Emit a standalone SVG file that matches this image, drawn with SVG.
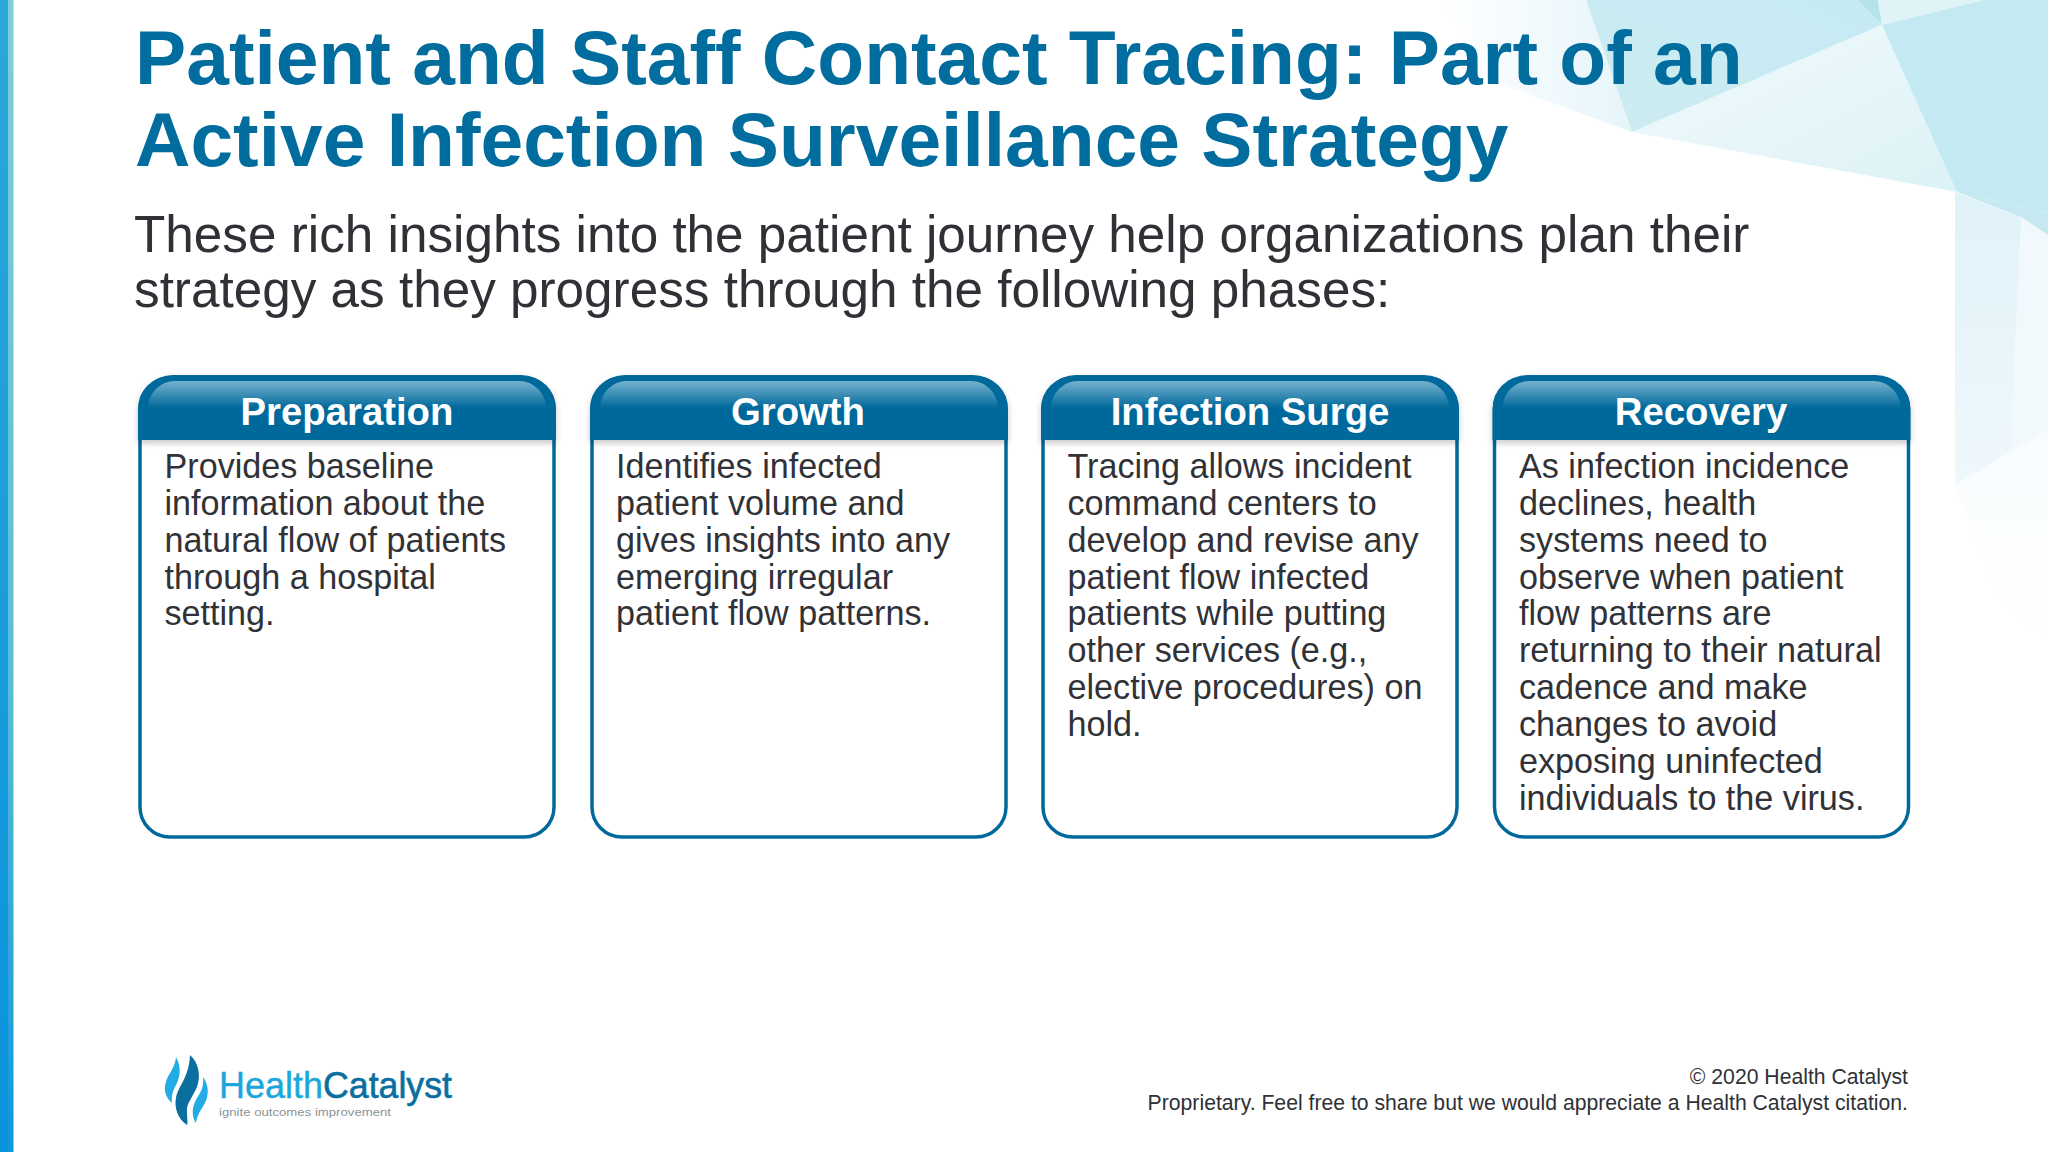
<svg xmlns="http://www.w3.org/2000/svg" width="2048" height="1152" viewBox="0 0 2048 1152">
<style>
text{font-family:"Liberation Sans",Arial,sans-serif}
.t{font-size:76.75px;font-weight:700;fill:#006d9e}
.s{font-size:51.25px;fill:#2f3136}
.h{font-size:38.3px;font-weight:700;fill:#fff;text-anchor:middle}
.b{font-size:34.15px;fill:#303238}
.f{font-size:21.2px;fill:#2f3136;text-anchor:end}
.box{fill:#fff;stroke:#00699b;stroke-width:3.5}
.head{fill:#00699b}
.sh{fill:url(#shine)}
</style>
<defs>
<linearGradient id="bar" x1="0" y1="0" x2="0" y2="1"><stop offset="0" stop-color="#2ba8d8"/><stop offset="1" stop-color="#0a93dd"/></linearGradient>
<linearGradient id="bar2" x1="0" y1="0" x2="0" y2="1"><stop offset="0" stop-color="#7fd0d8"/><stop offset=".6" stop-color="#5cbcd8"/><stop offset="1" stop-color="#0f96dc"/></linearGradient>
<linearGradient id="shine" x1="0" y1="0" x2="0" y2="1"><stop offset="0" stop-color="#76b2ce"/><stop offset="1" stop-color="#00699b"/></linearGradient>
<linearGradient id="fade" x1="0" y1="0" x2="1" y2="0"><stop offset="0" stop-color="#fff"/><stop offset="1" stop-color="#e6f5fb"/></linearGradient>
<linearGradient id="fa" x1="0" y1="0" x2="1" y2="1"><stop offset="0" stop-color="#f2fafd"/><stop offset="1" stop-color="#dcf2f6"/></linearGradient>
<linearGradient id="fb" x1="0" y1="1" x2="1" y2="0"><stop offset="0" stop-color="#cdecf0"/><stop offset="1" stop-color="#c6eaf5"/></linearGradient>
<linearGradient id="fc" x1="0" y1="0" x2="0" y2="1"><stop offset="0" stop-color="#e0f2f9"/><stop offset="1" stop-color="#eff8fc"/></linearGradient>
<linearGradient id="fd" x1="0" y1="0" x2="0" y2="1"><stop offset="0" stop-color="#f8fcfe"/><stop offset="1" stop-color="#fff"/></linearGradient>
<filter id="soft" x="-5%" y="-20%" width="110%" height="150%"><feDropShadow dx="0" dy="3" stdDeviation="3" flood-color="#000" flood-opacity=".22"/></filter>
</defs>
<rect width="2048" height="1152" fill="#fff"/>
<g id="background">
<polygon points="1440,0 1586,0 1632,132 1498,83" fill="url(#fade)"/>
<polygon points="1586,0 1857,0 1882,25 1632,132" fill="url(#fb)"/>
<polygon points="1857,0 1878,0 1882,25" fill="#b5e3ea"/>
<polygon points="1878,0 1984,0 1882,25" fill="#e0f4f8"/>
<polygon points="1632,132 1882,25 1957,192" fill="url(#fa)"/>
<polygon points="1882,25 1984,0 2048,0 2048,213 1957,192" fill="#c3e9f2"/>
<polygon points="1955,192 2021,217 2048,235 2048,430 1955,485" fill="url(#fc)"/>
<polygon points="2021,217 2048,235 2048,430 2010,452" fill="#f1f9fc"/>
<polygon points="1955,485 2048,430 2048,640 2000,600" fill="url(#fd)"/>
<polygon points="1957,192 2048,213 2048,235 2021,217" fill="#c6e9f1"/>
</g>
<g id="sidebar">
<rect x="0" y="0" width="8" height="1152" fill="url(#bar)"/>
<rect x="8" y="0" width="5.500" height="1152" fill="url(#bar2)"/>
</g>
<g id="heading">
<text class="t" x="135" y="84">Patient and Staff Contact Tracing: Part of an</text>
<text class="t" x="135" y="166">Active Infection Surveillance Strategy</text>
<text class="s" x="134" y="252">These rich insights into the patient journey help organizations plan their</text>
<text class="s" x="134" y="307">strategy as they progress through the following phases:</text>
</g>
<g id="preparation">
<rect class="box" x="140" y="378" width="414" height="459" rx="30"/>
<path class="head" filter="url(#soft)" d="M138 440V410a35 35 0 0 1 35-35H521a35 35 0 0 1 35 35V440Z"/>
<path class="sh" d="M148 408a27 27 0 0 1 27-27H519a27 27 0 0 1 27 27Z"/>
<text class="h" x="347" y="425">Preparation</text>
<text class="b" x="164.500" y="478">Provides baseline<tspan x="164.500" dy="36.850">information about the</tspan><tspan x="164.500" dy="36.850">natural flow of patients</tspan><tspan x="164.500" dy="36.850">through a hospital</tspan><tspan x="164.500" dy="36.850">setting.</tspan></text>
</g>
<g id="growth">
<rect class="box" x="592" y="378" width="414" height="459" rx="30"/>
<path class="head" filter="url(#soft)" d="M590 440V410a35 35 0 0 1 35-35H973a35 35 0 0 1 35 35V440Z"/>
<path class="sh" d="M600 408a27 27 0 0 1 27-27H971a27 27 0 0 1 27 27Z"/>
<text class="h" x="798" y="425">Growth</text>
<text class="b" x="616" y="478">Identifies infected<tspan x="616" dy="36.850">patient volume and</tspan><tspan x="616" dy="36.850">gives insights into any</tspan><tspan x="616" dy="36.850">emerging irregular</tspan><tspan x="616" dy="36.850">patient flow patterns.</tspan></text>
</g>
<g id="infection-surge">
<rect class="box" x="1043" y="378" width="414" height="459" rx="30"/>
<path class="head" filter="url(#soft)" d="M1041 440V410a35 35 0 0 1 35-35H1424a35 35 0 0 1 35 35V440Z"/>
<path class="sh" d="M1051 408a27 27 0 0 1 27-27H1422a27 27 0 0 1 27 27Z"/>
<text class="h" x="1250" y="425">Infection Surge</text>
<text class="b" x="1067.500" y="478">Tracing allows incident<tspan x="1067.500" dy="36.850">command centers to</tspan><tspan x="1067.500" dy="36.850">develop and revise any</tspan><tspan x="1067.500" dy="36.850">patient flow infected</tspan><tspan x="1067.500" dy="36.850">patients while putting</tspan><tspan x="1067.500" dy="36.850">other services (e.g.,</tspan><tspan x="1067.500" dy="36.850">elective procedures) on</tspan><tspan x="1067.500" dy="36.850">hold.</tspan></text>
</g>
<g id="recovery">
<rect class="box" x="1494.500" y="378" width="414" height="459" rx="30"/>
<path class="head" filter="url(#soft)" d="M1492.500 440V410a35 35 0 0 1 35-35H1875.500a35 35 0 0 1 35 35V440Z"/>
<path class="sh" d="M1502.500 408a27 27 0 0 1 27-27H1873.500a27 27 0 0 1 27 27Z"/>
<text class="h" x="1701" y="425">Recovery</text>
<text class="b" x="1519" y="478">As infection incidence<tspan x="1519" dy="36.850">declines, health</tspan><tspan x="1519" dy="36.850">systems need to</tspan><tspan x="1519" dy="36.850">observe when patient</tspan><tspan x="1519" dy="36.850">flow patterns are</tspan><tspan x="1519" dy="36.850">returning to their natural</tspan><tspan x="1519" dy="36.850">cadence and make</tspan><tspan x="1519" dy="36.850">changes to avoid</tspan><tspan x="1519" dy="36.850">exposing uninfected</tspan><tspan x="1519" dy="36.850">individuals to the virus.</tspan></text>
</g>
<g id="logo">
<path d="M176 1057C182 1068 180 1078 175 1087C172 1093 171 1098 172 1103C166 1098 163 1090 166 1082C168 1074 175 1068 176 1057Z" fill="#22ace6"/>
<path d="M190 1055C199 1063 201 1076 197 1087C192 1098 186 1104 187 1112C187 1118 188 1122 187 1125C178 1119 174 1108 176 1098C178 1086 189 1078 190 1055Z" fill="#0a6f9f"/>
<path d="M203 1077C209 1085 209 1095 205 1103C201 1110 197 1115 196 1123C191 1116 192 1106 197 1098C201 1092 204 1087 203 1077Z" fill="#22ace6"/>
<text x="219" y="1098" font-size="36" fill="#1ba7dc" stroke="#1ba7dc" stroke-width=".4" textLength="104" lengthAdjust="spacingAndGlyphs">Health</text>
<text x="323" y="1098" font-size="36" fill="#0a6f9f" stroke="#0a6f9f" stroke-width=".6" textLength="129" lengthAdjust="spacingAndGlyphs">Catalyst</text>
<text x="219" y="1116" font-size="10.500" fill="#8a9298" textLength="172" lengthAdjust="spacingAndGlyphs">ignite outcomes improvement</text>
</g>
<g id="footer">
<text class="f" x="1908" y="1084">© 2020 Health Catalyst</text>
<text class="f" x="1908" y="1110">Proprietary. Feel free to share but we would appreciate a Health Catalyst citation.</text>
</g>
</svg>
